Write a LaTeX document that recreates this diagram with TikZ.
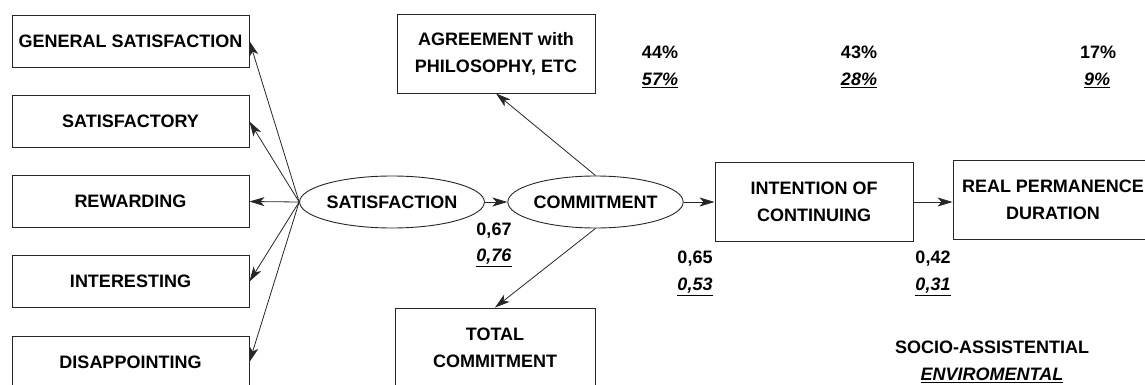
\documentclass[tikz,border=0pt]{standalone}
\usepackage{fontspec}
\setmainfont{Liberation Sans}
\usetikzlibrary{arrows.meta,shapes.geometric}
\begin{document}
\begin{tikzpicture}[x=1pt,y=-1pt,
  every node/.style={font=\fontsize{18}{27}\selectfont\bfseries, text=black},
  box/.style={draw=black!85, line width=0.9pt, rectangle, inner sep=0pt, align=center},
  leftbox/.style={box, minimum width=237pt, minimum height=52pt},
  bigbox/.style={box, minimum width=198pt, minimum height=79pt},
  construct/.style={draw=black!85, line width=0.9pt, ellipse, inner sep=0pt, minimum width=172pt, minimum height=52pt},
  link/.style={draw=black!85, line width=0.8pt, -{Stealth[length=15pt,width=9pt,inset=4pt]}},
  coef/.style={inner sep=0pt},
  ucoef/.style={inner sep=0pt}
]
\clip (0,0) rectangle (1145,385);

% indicators of satisfaction
\node[leftbox] (gs) at (130.5,41) {GENERAL SATISFACTION};
\node[leftbox] (sf) at (130.5,121.5) {SATISFACTORY};
\node[leftbox] (rw) at (130.5,201.5) {REWARDING};
\node[leftbox] (it) at (130.5,281.5) {INTERESTING};
\node[leftbox] (ds) at (130.5,362) {DISAPPOINTING};

% latent constructs
\node[construct] (sat) at (392,202) {SATISFACTION};
\node[construct, minimum width=173pt] (com) at (595.5,202) {COMMITMENT};

% commitment indicators
\node[bigbox] (agr) at (496,53.5) {AGREEMENT with\\PHILOSOPHY, ETC};
\node[bigbox, minimum width=200pt] (tot) at (495,347.5) {TOTAL\\COMMITMENT};

% outcomes
\node[bigbox] (int) at (814,202) {INTENTION OF\\CONTINUING};
\node[bigbox, minimum width=200pt] (real) at (1053,199.5) {REAL PERMANENCE\\DURATION};

% loadings
\draw[link] (sat.west) -- (gs.east);
\draw[link] (sat.west) -- (sf.east);
\draw[link] (sat.west) -- (rw.east);
\draw[link] (sat.west) -- (it.east);
\draw[link] (sat.west) -- (ds.east);
\draw[link] (sat.east) -- (com.west);
\draw[link] (com.north) -- (agr.south);
\draw[link] (com.south) -- (tot.north);
\draw[link] (com.east) -- (int.west);
\draw[link] (int.east) -- (real.west |- int.east);

% path coefficients
\node[coef] (c1a) at (494,231) {0,67};
\node[ucoef] (c1b) at (494,258) {\underline{\textit{0,76}}};
\node[coef] (c2a) at (695,259) {0,65};
\node[ucoef] (c2b) at (695,287) {\underline{\textit{0,53}}};
\node[coef] (c3a) at (933,259) {0,42};
\node[ucoef] (c3b) at (933,287) {\underline{\textit{0,31}}};

% explained variance
\node[coef] (p1a) at (660,52) {44\%};
\node[ucoef] (p1b) at (660,80) {\underline{\textit{57\%}}};
\node[coef] (p2a) at (859,52) {43\%};
\node[ucoef] (p2b) at (859,80) {\underline{\textit{28\%}}};
\node[coef] (p3a) at (1098,52) {17\%};
\node[ucoef] (p3b) at (1097,80) {\underline{\textit{9\%}}};

% sample legend
\node[coef] (lg1) at (992,347) {SOCIO-ASSISTENTIAL};
\node[ucoef] (lg2) at (992,375) {\underline{\textit{ENVIROMENTAL}}};
\end{tikzpicture}
\end{document}
